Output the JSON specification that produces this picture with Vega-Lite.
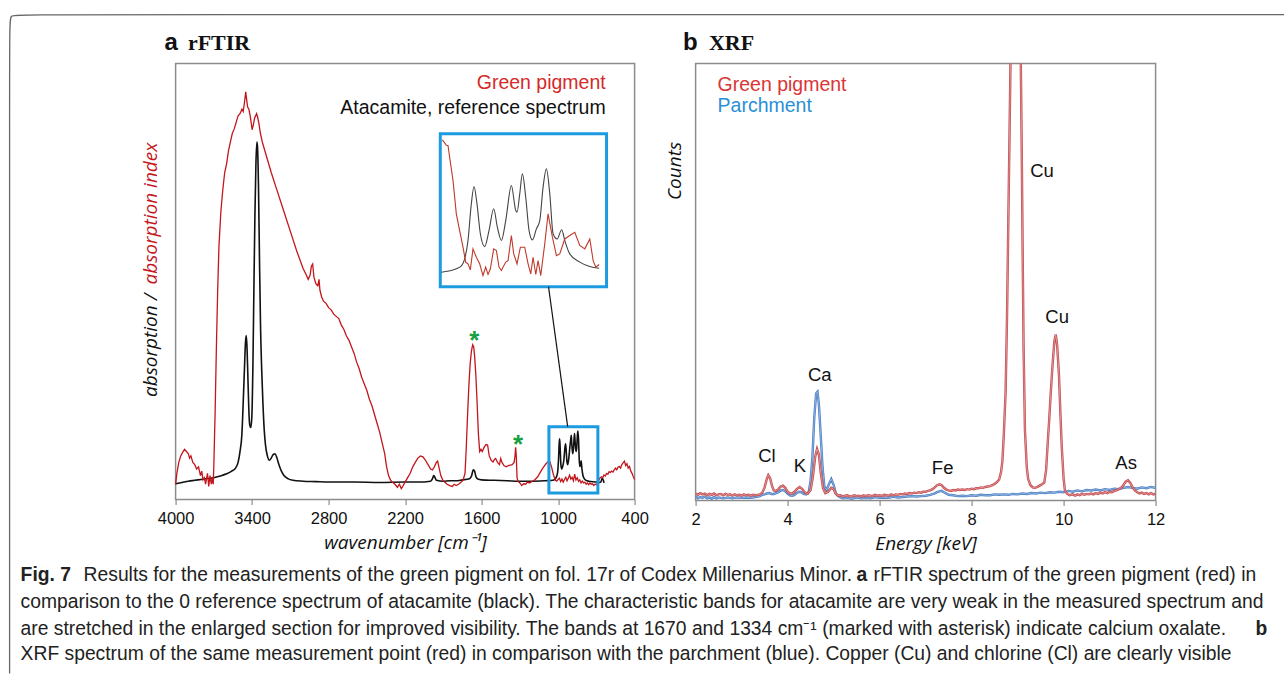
{
"$schema": "https://vega.github.io/schema/vega-lite/v6.json",
"padding": {"left": 5.6, "top": 10.5, "right": 0, "bottom": 0},
"background": "white",
"bounds": "flush",
"spacing": 61,
"config": {
  "view": {"stroke": "#8c8c8c", "strokeWidth": 1.5},
  "axis": {"grid": false, "domain": false, "tickColor": "#8c8c8c", "tickSize": 5, "tickWidth": 1.2, "labelFont": "Liberation Sans", "labelFontSize": 16.5, "labelColor": "#111", "labelPadding": 6.5, "labelFlush": false, "format": "d", "titleFont": "Open Sans", "titleFontSize": 19, "titleFontStyle": "italic", "titleFontWeight": "normal", "titleColor": "#111", "titlePadding": 6}
},
"datasets": {
  "ftir_red": [
{"wn":4000,"v":3.5},{"wn":3990,"v":6},{"wn":3975,"v":8.5},{"wn":3960,"v":10},{"wn":3945,"v":10.8},{"wn":3930,"v":11.5},{"wn":3915,"v":11},{"wn":3900,"v":10.5},{"wn":3890,"v":9.5},{"wn":3880,"v":10},{"wn":3865,"v":8.5},{"wn":3850,"v":8},{"wn":3835,"v":7},{"wn":3820,"v":7.5},{"wn":3805,"v":5.5},{"wn":3795,"v":6.5},{"wn":3785,"v":4.5},{"wn":3775,"v":5},{"wn":3765,"v":3.5},{"wn":3750,"v":6},{"wn":3740,"v":3},{"wn":3730,"v":5.5},{"wn":3720,"v":3.5},{"wn":3712,"v":5},{"wn":3705,"v":3.5},{"wn":3700,"v":8},{"wn":3690,"v":20},{"wn":3680,"v":35},{"wn":3670,"v":48},{"wn":3660,"v":58},{"wn":3645,"v":66},{"wn":3630,"v":71},{"wn":3615,"v":75},{"wn":3600,"v":77},{"wn":3585,"v":80},{"wn":3570,"v":82},{"wn":3555,"v":84},{"wn":3540,"v":85},{"wn":3525,"v":86.5},{"wn":3510,"v":88},{"wn":3495,"v":88.5},{"wn":3480,"v":89.5},{"wn":3470,"v":89},{"wn":3460,"v":91},{"wn":3450,"v":93.5},{"wn":3444,"v":92},{"wn":3435,"v":90},{"wn":3425,"v":89.5},{"wn":3415,"v":88},{"wn":3405,"v":86},{"wn":3400,"v":84.8},{"wn":3390,"v":86},{"wn":3380,"v":87.5},{"wn":3365,"v":88.5},{"wn":3355,"v":87.5},{"wn":3345,"v":86},{"wn":3335,"v":84},{"wn":3320,"v":82},{"wn":3300,"v":80},{"wn":3250,"v":75},{"wn":3200,"v":70.5},{"wn":3150,"v":66},{"wn":3100,"v":61.5},{"wn":3050,"v":57},{"wn":3000,"v":53},{"wn":2975,"v":51.5},{"wn":2960,"v":50.5},{"wn":2945,"v":51.5},{"wn":2935,"v":53.5},{"wn":2925,"v":54},{"wn":2915,"v":51},{"wn":2900,"v":49.5},{"wn":2885,"v":49},{"wn":2875,"v":50.5},{"wn":2868,"v":48},{"wn":2855,"v":46.5},{"wn":2840,"v":45.5},{"wn":2820,"v":45},{"wn":2800,"v":44},{"wn":2780,"v":43.5},{"wn":2760,"v":42.5},{"wn":2740,"v":42},{"wn":2720,"v":41.5},{"wn":2700,"v":40},{"wn":2680,"v":39},{"wn":2660,"v":37.5},{"wn":2640,"v":36.5},{"wn":2620,"v":35},{"wn":2600,"v":33.5},{"wn":2580,"v":31.5},{"wn":2560,"v":30},{"wn":2540,"v":28},{"wn":2520,"v":26.5},{"wn":2500,"v":25},{"wn":2480,"v":23},{"wn":2460,"v":21.5},{"wn":2440,"v":19.5},{"wn":2420,"v":17.5},{"wn":2400,"v":15.5},{"wn":2380,"v":13},{"wn":2360,"v":10.5},{"wn":2345,"v":7.5},{"wn":2330,"v":5.5},{"wn":2315,"v":4.5},{"wn":2300,"v":4},{"wn":2280,"v":3.5},{"wn":2260,"v":2.8},{"wn":2245,"v":3.5},{"wn":2230,"v":2.5},{"wn":2215,"v":3.2},{"wn":2200,"v":4},{"wn":2180,"v":5},{"wn":2160,"v":6},{"wn":2140,"v":7.5},{"wn":2120,"v":8.5},{"wn":2100,"v":9.5},{"wn":2080,"v":10},{"wn":2060,"v":9.8},{"wn":2040,"v":9},{"wn":2020,"v":8},{"wn":2000,"v":7},{"wn":1985,"v":6.8},{"wn":1970,"v":7.5},{"wn":1955,"v":8.5},{"wn":1945,"v":8.8},{"wn":1935,"v":7.5},{"wn":1920,"v":5.5},{"wn":1905,"v":4.5},{"wn":1890,"v":4},{"wn":1870,"v":3.5},{"wn":1850,"v":3.2},{"wn":1830,"v":3},{"wn":1815,"v":3.5},{"wn":1800,"v":3.2},{"wn":1780,"v":3.5},{"wn":1760,"v":4},{"wn":1745,"v":4.5},{"wn":1730,"v":6},{"wn":1720,"v":12},{"wn":1712,"v":18},{"wn":1700,"v":26},{"wn":1690,"v":31},{"wn":1680,"v":34},{"wn":1670,"v":35.5},{"wn":1662,"v":35},{"wn":1655,"v":33},{"wn":1645,"v":28.5},{"wn":1635,"v":22},{"wn":1625,"v":15},{"wn":1615,"v":11},{"wn":1605,"v":11.5},{"wn":1595,"v":11},{"wn":1580,"v":12},{"wn":1565,"v":12.6},{"wn":1553,"v":12.5},{"wn":1540,"v":10},{"wn":1525,"v":9},{"wn":1510,"v":8.6},{"wn":1500,"v":9.2},{"wn":1490,"v":9.4},{"wn":1475,"v":8.5},{"wn":1460,"v":8},{"wn":1450,"v":9.4},{"wn":1440,"v":8.5},{"wn":1425,"v":7.8},{"wn":1405,"v":7.5},{"wn":1390,"v":7.8},{"wn":1375,"v":7.9},{"wn":1360,"v":8},{"wn":1345,"v":8.5},{"wn":1338,"v":10},{"wn":1333,"v":12},{"wn":1328,"v":10},{"wn":1322,"v":5},{"wn":1315,"v":4.2},{"wn":1300,"v":3.8},{"wn":1285,"v":3.2},{"wn":1270,"v":3.6},{"wn":1255,"v":3.5},{"wn":1240,"v":4},{"wn":1225,"v":3.8},{"wn":1200,"v":4.2},{"wn":1180,"v":4.6},{"wn":1160,"v":5.2},{"wn":1145,"v":6},{"wn":1120,"v":7.2},{"wn":1095,"v":8.2},{"wn":1075,"v":8.8},{"wn":1065,"v":8.7},{"wn":1050,"v":7.3},{"wn":1035,"v":5.5},{"wn":1020,"v":4.4},{"wn":1010,"v":4.2},{"wn":1000,"v":4.6},{"wn":990,"v":4.9},{"wn":980,"v":4.1},{"wn":970,"v":4.7},{"wn":960,"v":4.0},{"wn":950,"v":4.6},{"wn":940,"v":5.1},{"wn":930,"v":4.3},{"wn":920,"v":4.9},{"wn":910,"v":5.6},{"wn":900,"v":4.7},{"wn":890,"v":5.1},{"wn":880,"v":4.3},{"wn":870,"v":5.8},{"wn":860,"v":4.5},{"wn":850,"v":5},{"wn":840,"v":4.2},{"wn":830,"v":4.5},{"wn":820,"v":3.8},{"wn":810,"v":4.2},{"wn":800,"v":3.8},{"wn":790,"v":4},{"wn":780,"v":3.5},{"wn":770,"v":3.8},{"wn":760,"v":3.4},{"wn":750,"v":3.8},{"wn":740,"v":3.5},{"wn":730,"v":3.6},{"wn":720,"v":3.2},{"wn":710,"v":3.5},{"wn":700,"v":3.4},{"wn":690,"v":4},{"wn":680,"v":4.5},{"wn":670,"v":5},{"wn":660,"v":5.2},{"wn":650,"v":5},{"wn":640,"v":5.6},{"wn":630,"v":5.4},{"wn":620,"v":6},{"wn":610,"v":5.8},{"wn":600,"v":6.4},{"wn":590,"v":6.2},{"wn":580,"v":6.5},{"wn":570,"v":6.3},{"wn":560,"v":6.8},{"wn":550,"v":7.2},{"wn":540,"v":6.8},{"wn":530,"v":7.4},{"wn":520,"v":7.6},{"wn":510,"v":7.2},{"wn":500,"v":8},{"wn":490,"v":8.4},{"wn":480,"v":8.8},{"wn":470,"v":7.8},{"wn":460,"v":8.2},{"wn":450,"v":7.2},{"wn":440,"v":7.6},{"wn":430,"v":6.5},{"wn":420,"v":6},{"wn":410,"v":5.2},{"wn":400,"v":4.6}
  ],
  "ftir_black": [
{"wn":4000,"v":3.6},{"wn":3950,"v":3.9},{"wn":3900,"v":4.2},{"wn":3850,"v":4.4},{"wn":3800,"v":4.6},{"wn":3750,"v":4.8},{"wn":3700,"v":5},{"wn":3650,"v":5.4},{"wn":3600,"v":5.9},{"wn":3560,"v":6.5},{"wn":3530,"v":7.2},{"wn":3510,"v":8.5},{"wn":3495,"v":11},{"wn":3480,"v":15},{"wn":3470,"v":22},{"wn":3460,"v":30},{"wn":3452,"v":36},{"wn":3446,"v":37.6},{"wn":3440,"v":35},{"wn":3432,"v":27},{"wn":3425,"v":20},{"wn":3418,"v":17},{"wn":3410,"v":16.5},{"wn":3402,"v":19},{"wn":3394,"v":30},{"wn":3386,"v":48},{"wn":3378,"v":65},{"wn":3370,"v":77},{"wn":3363,"v":82},{"wn":3358,"v":81},{"wn":3350,"v":72},{"wn":3342,"v":55},{"wn":3334,"v":40},{"wn":3325,"v":30},{"wn":3315,"v":22},{"wn":3305,"v":16},{"wn":3295,"v":12.5},{"wn":3280,"v":10},{"wn":3265,"v":9},{"wn":3250,"v":9.5},{"wn":3235,"v":10.3},{"wn":3220,"v":10.5},{"wn":3205,"v":9.5},{"wn":3190,"v":8},{"wn":3170,"v":6.5},{"wn":3150,"v":5.5},{"wn":3120,"v":4.8},{"wn":3080,"v":4.4},{"wn":3000,"v":4.2},{"wn":2900,"v":4.1},{"wn":2800,"v":4},{"wn":2600,"v":4},{"wn":2400,"v":3.9},{"wn":2200,"v":4},{"wn":2100,"v":4},{"wn":2000,"v":4.2},{"wn":1985,"v":4.8},{"wn":1975,"v":5.5},{"wn":1965,"v":5},{"wn":1955,"v":4.4},{"wn":1900,"v":4.2},{"wn":1850,"v":4.3},{"wn":1800,"v":4.3},{"wn":1750,"v":4.5},{"wn":1700,"v":4.7},{"wn":1680,"v":5.3},{"wn":1665,"v":6.8},{"wn":1655,"v":6.5},{"wn":1645,"v":5.3},{"wn":1630,"v":4.7},{"wn":1600,"v":4.5},{"wn":1500,"v":4.4},{"wn":1400,"v":4.3},{"wn":1300,"v":4.2},{"wn":1200,"v":4.2},{"wn":1100,"v":4.3},{"wn":1040,"v":4.4},{"wn":1020,"v":4.8},{"wn":1005,"v":6},{"wn":997,"v":9},{"wn":991,"v":13},{"wn":988,"v":13.9},{"wn":984,"v":12},{"wn":978,"v":8},{"wn":972,"v":7},{"wn":965,"v":7.5},{"wn":955,"v":9},{"wn":946,"v":12},{"wn":941,"v":12.8},{"wn":936,"v":11},{"wn":930,"v":8.5},{"wn":924,"v":8},{"wn":916,"v":9.5},{"wn":906,"v":12.5},{"wn":900,"v":14},{"wn":897,"v":14.7},{"wn":893,"v":13},{"wn":886,"v":10.5},{"wn":880,"v":11.5},{"wn":874,"v":14.2},{"wn":871,"v":15.1},{"wn":867,"v":13.5},{"wn":860,"v":11},{"wn":855,"v":11.5},{"wn":849,"v":14.5},{"wn":845,"v":15.7},{"wn":840,"v":14},{"wn":834,"v":9},{"wn":829,"v":7.5},{"wn":824,"v":8},{"wn":819,"v":8.9},{"wn":813,"v":7},{"wn":805,"v":5.5},{"wn":795,"v":4.8},{"wn":780,"v":4.4},{"wn":760,"v":4.2},{"wn":700,"v":4},{"wn":680,"v":3.9},{"wn":665,"v":4.0},{"wn":655,"v":4.8},{"wn":645,"v":4.4},{"wn":640,"v":3.8}
  ],
  "inset_black": [
{"wn":1077.6,"v":9.2},{"wn":1060,"v":10},{"wn":1042.4,"v":11.4},{"wn":1030,"v":13.5},{"wn":1022.8,"v":17.9},{"wn":1015,"v":30},{"wn":1007.2,"v":54},{"wn":1000.9,"v":65.4},{"wn":993.9,"v":54},{"wn":986,"v":34.4},{"wn":975.8,"v":26},{"wn":965.7,"v":36.5},{"wn":954.7,"v":50.8},{"wn":946.1,"v":38.7},{"wn":936.7,"v":30},{"wn":926.5,"v":43},{"wn":913.2,"v":66},{"wn":903,"v":49.7},{"wn":899.9,"v":48.6},{"wn":893.6,"v":60.6},{"wn":887.4,"v":73.7},{"wn":879.5,"v":58.4},{"wn":871.7,"v":36.5},{"wn":863.9,"v":30.4},{"wn":854.5,"v":37.6},{"wn":846.6,"v":43},{"wn":838.8,"v":65},{"wn":831,"v":77},{"wn":823.1,"v":60.6},{"wn":815.3,"v":34.4},{"wn":805.9,"v":31},{"wn":795,"v":37},{"wn":787.9,"v":30},{"wn":776.2,"v":21.2},{"wn":752.7,"v":15.8},{"wn":729.2,"v":12.9},{"wn":707.2,"v":11.8}
  ],
  "inset_red": [
{"wn":1075.3,"v":96},{"wn":1069.8,"v":94},{"wn":1065.9,"v":92.5},{"wn":1062,"v":92.3},{"wn":1058.1,"v":84.7},{"wn":1050.2,"v":69.4},{"wn":1042.4,"v":47.5},{"wn":1034.6,"v":36.5},{"wn":1026.7,"v":25.6},{"wn":1020.5,"v":15.8},{"wn":1015,"v":14.7},{"wn":1009.5,"v":10.7},{"wn":1003.3,"v":24.5},{"wn":995.4,"v":19},{"wn":987.6,"v":14.7},{"wn":979.8,"v":7},{"wn":973.5,"v":12.5},{"wn":968,"v":7.7},{"wn":962.5,"v":11.4},{"wn":954.7,"v":24.5},{"wn":948.4,"v":23.4},{"wn":942.2,"v":12.5},{"wn":936.7,"v":10.3},{"wn":926.5,"v":15.8},{"wn":921,"v":16.8},{"wn":913.2,"v":33.3},{"wn":907.7,"v":21.2},{"wn":899.9,"v":14.7},{"wn":892.1,"v":25.6},{"wn":881.9,"v":25.6},{"wn":874,"v":14.7},{"wn":867.8,"v":8.1},{"wn":862.3,"v":19},{"wn":856,"v":7.7},{"wn":850.6,"v":16.8},{"wn":844.3,"v":7},{"wn":834.9,"v":27.8},{"wn":827.1,"v":47.5},{"wn":816.9,"v":32.2},{"wn":807.5,"v":20.1},{"wn":799.7,"v":21.2},{"wn":787.9,"v":31},{"wn":776.2,"v":33.3},{"wn":764.4,"v":35.4},{"wn":752.7,"v":26.7},{"wn":740.9,"v":24.5},{"wn":729.2,"v":31},{"wn":721.3,"v":16.8},{"wn":715.1,"v":12.5},{"wn":707.2,"v":14.2}
  ],
  "xrf_red": [
{"e":2.0,"v":1.6},{"e":2.05,"v":1.3},{"e":2.1,"v":1.7},{"e":2.15,"v":1.4},{"e":2.2,"v":1.6},{"e":2.25,"v":1.2},{"e":2.3,"v":1.5},{"e":2.35,"v":1.3},{"e":2.4,"v":1.6},{"e":2.45,"v":1.2},{"e":2.5,"v":1.4},{"e":2.55,"v":1.5},{"e":2.6,"v":1.2},{"e":2.65,"v":1.5},{"e":2.7,"v":1.3},{"e":2.75,"v":1.4},{"e":2.8,"v":1.1},{"e":2.85,"v":1.4},{"e":2.9,"v":1.2},{"e":2.95,"v":1.3},{"e":3.0,"v":1.1},{"e":3.05,"v":1.4},{"e":3.1,"v":1.2},{"e":3.15,"v":1.3},{"e":3.2,"v":1.1},{"e":3.25,"v":1.3},{"e":3.3,"v":1.2},{"e":3.35,"v":1.3},{"e":3.4,"v":1.4},{"e":3.45,"v":1.8},{"e":3.5,"v":3},{"e":3.55,"v":5},{"e":3.58,"v":5.8},{"e":3.62,"v":5.1},{"e":3.66,"v":3.4},{"e":3.7,"v":2.3},{"e":3.75,"v":2.2},{"e":3.8,"v":2.6},{"e":3.85,"v":3.2},{"e":3.9,"v":3.4},{"e":3.95,"v":2.9},{"e":4.0,"v":2.0},{"e":4.05,"v":1.6},{"e":4.1,"v":1.6},{"e":4.15,"v":2.0},{"e":4.2,"v":2.6},{"e":4.26,"v":3.1},{"e":4.32,"v":2.6},{"e":4.38,"v":1.8},{"e":4.44,"v":1.6},{"e":4.5,"v":2.4},{"e":4.55,"v":5.5},{"e":4.6,"v":10},{"e":4.64,"v":11.8},{"e":4.68,"v":10.5},{"e":4.72,"v":6.5},{"e":4.77,"v":2.8},{"e":4.82,"v":1.7},{"e":4.88,"v":2.0},{"e":4.95,"v":2.9},{"e":5.0,"v":2.6},{"e":5.05,"v":1.5},{"e":5.1,"v":1.1},{"e":5.15,"v":1.2},{"e":5.2,"v":0.9},{"e":5.25,"v":1.1},{"e":5.3,"v":1.2},{"e":5.35,"v":0.9},{"e":5.4,"v":1.0},{"e":5.45,"v":1.2},{"e":5.5,"v":1.0},{"e":5.55,"v":1.1},{"e":5.6,"v":0.9},{"e":5.65,"v":1.2},{"e":5.7,"v":1.0},{"e":5.75,"v":1.2},{"e":5.8,"v":1.1},{"e":5.85,"v":1.0},{"e":5.9,"v":1.3},{"e":5.95,"v":1.1},{"e":6.0,"v":1.2},{"e":6.05,"v":1.0},{"e":6.1,"v":1.3},{"e":6.15,"v":1.2},{"e":6.2,"v":1.1},{"e":6.25,"v":1.4},{"e":6.3,"v":1.2},{"e":6.35,"v":1.4},{"e":6.4,"v":1.3},{"e":6.45,"v":1.5},{"e":6.5,"v":1.4},{"e":6.55,"v":1.6},{"e":6.6,"v":1.5},{"e":6.65,"v":1.7},{"e":6.7,"v":1.6},{"e":6.75,"v":1.8},{"e":6.8,"v":1.7},{"e":6.85,"v":1.9},{"e":6.9,"v":1.8},{"e":6.95,"v":2.0},{"e":7.0,"v":2.0},{"e":7.05,"v":2.2},{"e":7.1,"v":2.3},{"e":7.15,"v":2.6},{"e":7.2,"v":3.0},{"e":7.25,"v":3.5},{"e":7.3,"v":3.7},{"e":7.35,"v":3.5},{"e":7.4,"v":2.9},{"e":7.45,"v":2.5},{"e":7.5,"v":2.3},{"e":7.55,"v":2.2},{"e":7.6,"v":2.4},{"e":7.65,"v":2.3},{"e":7.7,"v":2.5},{"e":7.75,"v":2.4},{"e":7.8,"v":2.5},{"e":7.85,"v":2.4},{"e":7.9,"v":2.6},{"e":7.95,"v":2.5},{"e":8.0,"v":2.7},{"e":8.05,"v":2.6},{"e":8.1,"v":2.8},{"e":8.15,"v":2.8},{"e":8.2,"v":3.0},{"e":8.25,"v":2.9},{"e":8.3,"v":3.1},{"e":8.35,"v":3.2},{"e":8.4,"v":3.3},{"e":8.45,"v":3.5},{"e":8.5,"v":3.8},{"e":8.55,"v":4.2},{"e":8.6,"v":4.8},{"e":8.64,"v":6.5},{"e":8.67,"v":9},{"e":8.7,"v":15},{"e":8.74,"v":25},{"e":8.77,"v":42},{"e":8.8,"v":65},{"e":8.83,"v":88},{"e":8.86,"v":112},{"e":8.9,"v":135},{"e":8.95,"v":150},{"e":9.0,"v":145},{"e":9.04,"v":122},{"e":9.07,"v":100},{"e":9.09,"v":80},{"e":9.11,"v":57},{"e":9.13,"v":35},{"e":9.16,"v":16},{"e":9.2,"v":7.5},{"e":9.23,"v":4.9},{"e":9.28,"v":3.5},{"e":9.33,"v":3.0},{"e":9.38,"v":2.9},{"e":9.43,"v":3.1},{"e":9.48,"v":3.4},{"e":9.53,"v":3.7},{"e":9.58,"v":4.1},{"e":9.62,"v":7},{"e":9.65,"v":12.3},{"e":9.69,"v":19},{"e":9.72,"v":24.5},{"e":9.76,"v":31},{"e":9.8,"v":36.5},{"e":9.83,"v":38},{"e":9.86,"v":35.5},{"e":9.9,"v":28.6},{"e":9.93,"v":20},{"e":9.96,"v":12.3},{"e":10.0,"v":5},{"e":10.03,"v":2.2},{"e":10.08,"v":1.5},{"e":10.13,"v":1.2},{"e":10.2,"v":1.4},{"e":10.25,"v":1.1},{"e":10.3,"v":1.4},{"e":10.35,"v":1.2},{"e":10.4,"v":1.5},{"e":10.45,"v":1.3},{"e":10.5,"v":1.5},{"e":10.55,"v":1.4},{"e":10.6,"v":1.6},{"e":10.65,"v":1.4},{"e":10.7,"v":1.7},{"e":10.75,"v":1.5},{"e":10.8,"v":1.8},{"e":10.85,"v":1.6},{"e":10.9,"v":1.9},{"e":10.95,"v":1.7},{"e":11.0,"v":2.0},{"e":11.05,"v":1.9},{"e":11.1,"v":2.2},{"e":11.15,"v":2.3},{"e":11.2,"v":2.6},{"e":11.25,"v":2.9},{"e":11.3,"v":3.5},{"e":11.35,"v":4.3},{"e":11.4,"v":4.6},{"e":11.45,"v":4.0},{"e":11.5,"v":3.0},{"e":11.55,"v":2.3},{"e":11.6,"v":1.9},{"e":11.65,"v":1.6},{"e":11.7,"v":1.8},{"e":11.75,"v":1.5},{"e":11.8,"v":1.7},{"e":11.85,"v":1.4},{"e":11.9,"v":1.7},{"e":11.95,"v":1.4},{"e":12.0,"v":1.6}
  ],
  "xrf_blue": [
{"e":2.0,"v":0.9},{"e":2.05,"v":0.5},{"e":2.1,"v":0.8},{"e":2.15,"v":0.6},{"e":2.2,"v":0.9},{"e":2.25,"v":0.5},{"e":2.3,"v":0.7},{"e":2.35,"v":0.4},{"e":2.4,"v":0.8},{"e":2.45,"v":0.5},{"e":2.5,"v":0.7},{"e":2.6,"v":0.5},{"e":2.7,"v":0.7},{"e":2.8,"v":0.5},{"e":2.9,"v":0.7},{"e":3.0,"v":0.6},{"e":3.1,"v":0.7},{"e":3.2,"v":0.6},{"e":3.3,"v":0.8},{"e":3.4,"v":1.0},{"e":3.45,"v":1.3},{"e":3.5,"v":1.4},{"e":3.55,"v":1.6},{"e":3.6,"v":1.7},{"e":3.65,"v":1.5},{"e":3.7,"v":1.5},{"e":3.75,"v":1.7},{"e":3.8,"v":1.9},{"e":3.85,"v":2.3},{"e":3.9,"v":2.4},{"e":3.95,"v":2.1},{"e":4.0,"v":1.6},{"e":4.05,"v":1.2},{"e":4.1,"v":1.1},{"e":4.15,"v":1.3},{"e":4.2,"v":1.7},{"e":4.25,"v":2.0},{"e":4.3,"v":1.9},{"e":4.35,"v":1.5},{"e":4.4,"v":1.4},{"e":4.46,"v":2.0},{"e":4.5,"v":4.5},{"e":4.54,"v":10},{"e":4.58,"v":19},{"e":4.62,"v":24.5},{"e":4.65,"v":24.9},{"e":4.68,"v":22},{"e":4.72,"v":15},{"e":4.76,"v":7.5},{"e":4.8,"v":3.2},{"e":4.85,"v":2.4},{"e":4.9,"v":3.8},{"e":4.95,"v":4.9},{"e":5.0,"v":3.6},{"e":5.05,"v":1.6},{"e":5.1,"v":1.0},{"e":5.15,"v":0.7},{"e":5.2,"v":0.5},{"e":5.3,"v":0.6},{"e":5.4,"v":0.4},{"e":5.5,"v":0.7},{"e":5.6,"v":0.5},{"e":5.7,"v":0.6},{"e":5.8,"v":0.5},{"e":5.9,"v":0.8},{"e":6.0,"v":0.6},{"e":6.1,"v":0.7},{"e":6.2,"v":0.6},{"e":6.3,"v":0.9},{"e":6.4,"v":0.7},{"e":6.5,"v":0.8},{"e":6.6,"v":0.9},{"e":6.7,"v":1.0},{"e":6.8,"v":0.9},{"e":6.9,"v":1.0},{"e":7.0,"v":1.1},{"e":7.1,"v":1.3},{"e":7.2,"v":1.6},{"e":7.25,"v":1.9},{"e":7.3,"v":2.1},{"e":7.35,"v":2.2},{"e":7.4,"v":1.9},{"e":7.45,"v":1.6},{"e":7.5,"v":1.3},{"e":7.6,"v":1.2},{"e":7.7,"v":1.0},{"e":7.8,"v":1.1},{"e":7.9,"v":1.0},{"e":8.0,"v":1.2},{"e":8.1,"v":1.1},{"e":8.2,"v":1.3},{"e":8.3,"v":1.2},{"e":8.4,"v":1.2},{"e":8.5,"v":1.4},{"e":8.6,"v":1.3},{"e":8.7,"v":1.4},{"e":8.8,"v":1.3},{"e":8.9,"v":1.5},{"e":9.0,"v":1.4},{"e":9.1,"v":1.6},{"e":9.2,"v":1.5},{"e":9.3,"v":1.7},{"e":9.4,"v":1.6},{"e":9.5,"v":1.8},{"e":9.6,"v":1.7},{"e":9.7,"v":1.9},{"e":9.8,"v":1.8},{"e":9.9,"v":2.0},{"e":10.0,"v":1.9},{"e":10.1,"v":2.2},{"e":10.2,"v":2.0},{"e":10.3,"v":2.3},{"e":10.4,"v":2.1},{"e":10.5,"v":2.4},{"e":10.6,"v":2.3},{"e":10.7,"v":2.5},{"e":10.8,"v":2.3},{"e":10.9,"v":2.6},{"e":11.0,"v":2.4},{"e":11.1,"v":2.7},{"e":11.2,"v":2.6},{"e":11.3,"v":2.9},{"e":11.4,"v":3.1},{"e":11.5,"v":2.9},{"e":11.6,"v":2.7},{"e":11.7,"v":3.0},{"e":11.8,"v":2.8},{"e":11.9,"v":3.1},{"e":12.0,"v":2.9}
  ]
},
"hconcat": [
  {
    "width": 459, "height": 436,
    "layer": [
      {
        "encoding": {
          "x": {"field": "wn", "type": "quantitative", "scale": {"domain": [4000, 400], "nice": false, "zero": false}, "axis": {"values": [4000, 3400, 2800, 2200, 1600, 1000, 400], "title": "wavenumber [cm⁻¹]"}},
          "y": {"field": "v", "type": "quantitative", "scale": {"domain": [0, 100], "nice": false, "zero": false}, "axis": null}
        },
        "layer": [
          {"data": {"name": "ftir_black"}, "mark": {"type": "line", "color": "#111111", "strokeWidth": 1.6, "interpolate": "monotone"}},
          {"data": {"name": "ftir_red"}, "mark": {"type": "line", "color": "#c3161c", "strokeWidth": 1.3}},
          {"data": {"values": [{"wn": 1072, "wn2": 688, "v": 1.5, "v2": 16.7}, {"wn": 1924, "wn2": 620, "v": 48.8, "v2": 83.9}]}, "mark": {"type": "rect", "filled": false, "stroke": "#1c9be1", "strokeWidth": 3}, "encoding": {"x2": {"field": "wn2"}, "y2": {"field": "v2"}}},
          {"data": {"values": [{"wn": 1075, "v": 48.8, "wn2": 925, "v2": 16.7}]}, "mark": {"type": "rule", "color": "#111111", "strokeWidth": 1.2}, "encoding": {"x2": {"field": "wn2"}, "y2": {"field": "v2"}}},
          {"data": {"values": [{"wn": 4190.6, "v": 47.2, "t": "absorption /"}]}, "mark": {"type": "text", "angle": 270, "align": "right", "baseline": "middle", "font": "Open Sans", "fontStyle": "italic", "fontSize": 19, "color": "#111111"}, "encoding": {"text": {"field": "t"}}},
          {"data": {"values": [{"wn": 4190.6, "v": 49.3, "t": "absorption index"}]}, "mark": {"type": "text", "angle": 270, "align": "left", "baseline": "middle", "font": "Open Sans", "fontStyle": "italic", "fontSize": 19, "color": "#c3161c"}, "encoding": {"text": {"field": "t"}}},
          {"data": {"values": [{"wn": 4086.3, "v": 103.2, "t": "a"}]}, "mark": {"type": "text", "align": "left", "baseline": "alphabetic", "font": "Liberation Sans", "fontWeight": "bold", "fontSize": 24, "color": "#111111"}, "encoding": {"text": {"field": "t"}}},
          {"data": {"values": [{"wn": 3903.5, "v": 103.2, "t": "rFTIR"}]}, "mark": {"type": "text", "align": "left", "baseline": "alphabetic", "font": "Liberation Serif", "fontWeight": "bold", "fontSize": 22, "color": "#111111"}, "encoding": {"text": {"field": "t"}}},
          {"data": {"values": [{"wn": 627, "v": 95.6, "t": "Green pigment"}]}, "mark": {"type": "text", "align": "right", "baseline": "middle", "font": "Liberation Sans", "fontSize": 19.5, "color": "#d42a2a"}, "encoding": {"text": {"field": "t"}}},
          {"data": {"values": [{"wn": 627, "v": 89.7, "t": "Atacamite, reference spectrum"}]}, "mark": {"type": "text", "align": "right", "baseline": "middle", "font": "Liberation Sans", "fontSize": 19.5, "color": "#111111"}, "encoding": {"text": {"field": "t"}}},
          {"data": {"values": [{"wn": 1657, "v": 34.45, "t": "*"}, {"wn": 1314, "v": 10.7, "t": "*"}]}, "mark": {"type": "text", "align": "center", "baseline": "alphabetic", "font": "Liberation Sans", "fontWeight": "bold", "fontSize": 26, "color": "#16a042"}, "encoding": {"text": {"field": "t"}}},
          {"data": {"values": [{"wn": 5215.7, "v": -17.43, "t": "Fig. 7"}, {"wn": -1341, "v": -17.43, "t": "a"}, {"wn": -4470.6, "v": -29.59, "t": "b"}]}, "mark": {"type": "text", "align": "left", "baseline": "middle", "font": "Liberation Sans", "fontWeight": "bold", "fontSize": 19.3, "color": "#222222"}, "encoding": {"text": {"field": "t"}}},
          {"data": {"values": [
            {"wn": 4721.6, "v": -17.43, "t": "Results for the measurements of the green pigment on fol. 17r of Codex Millenarius Minor."},
            {"wn": -1474.5, "v": -17.43, "t": "rFTIR spectrum of the green pigment (red) in"},
            {"wn": 5215.7, "v": -23.62, "t": "comparison to the 0 reference spectrum of atacamite (black). The characteristic bands for atacamite are very weak in the measured spectrum and"},
            {"wn": 5215.7, "v": -29.59, "t": "are stretched in the enlarged section for improved visibility. The bands at 1670 and 1334 cm⁻¹ (marked with asterisk) indicate calcium oxalate."},
            {"wn": 5215.7, "v": -35.55, "t": "XRF spectrum of the same measurement point (red) in comparison with the parchment (blue). Copper (Cu) and chlorine (Cl) are clearly visible"}
          ]}, "mark": {"type": "text", "align": "left", "baseline": "middle", "font": "Liberation Sans", "fontSize": 19.3, "color": "#222222"}, "encoding": {"text": {"field": "t"}}},
          {"data": {"values": [{"wn": 5302, "v": -39.9, "i": 0}, {"wn": 5302, "v": 108.9, "i": 1}, {"wn": 5302, "v": 111.2, "i": 2}, {"wn": 5207.8, "v": 111.2, "i": 3}, {"wn": -4737.3, "v": 111.2, "i": 4}]}, "mark": {"type": "line", "color": "#666666", "strokeWidth": 1.3, "interpolate": "basis"}, "encoding": {"order": {"field": "i", "type": "quantitative"}}}
        ]
      },
      {
        "encoding": {
          "x": {"field": "wn", "type": "quantitative", "scale": {"domain": [1080, 690], "range": [264.7, 430.9], "nice": false, "zero": false}, "axis": null},
          "y": {"field": "v", "type": "quantitative", "scale": {"domain": [0, 100], "range": [222.7, 70.3], "nice": false, "zero": false}, "axis": null}
        },
        "layer": [
          {"data": {"name": "inset_black"}, "mark": {"type": "line", "color": "#444444", "strokeWidth": 1.1, "interpolate": "monotone"}},
          {"data": {"name": "inset_red"}, "mark": {"type": "line", "color": "#c0392b", "strokeWidth": 1.1}}
        ]
      }
    ],
    "resolve": {"scale": {"x": "independent", "y": "independent"}}
  },
  {
    "width": 460, "height": 437,
    "encoding": {
      "x": {"field": "e", "type": "quantitative", "scale": {"domain": [2, 12], "nice": false, "zero": false}, "axis": {"values": [2, 4, 6, 8, 10, 12], "title": "Energy [keV]"}},
      "y": {"field": "v", "type": "quantitative", "scale": {"domain": [0, 100], "nice": false, "zero": false}, "axis": null}
    },
    "layer": [
      {"data": {"name": "xrf_blue"}, "mark": {"type": "line", "color": "#4a7fc4", "strokeWidth": 2.4, "clip": true}},
      {"data": {"name": "xrf_blue"}, "mark": {"type": "line", "color": "#a9c6ea", "strokeWidth": 0.7, "clip": true}},
      {"data": {"name": "xrf_red"}, "mark": {"type": "line", "color": "#c44a4e", "strokeWidth": 2.4, "clip": true}},
      {"data": {"name": "xrf_red"}, "mark": {"type": "line", "color": "#eab0b0", "strokeWidth": 0.7, "clip": true}},
      {"data": {"values": [{"e": 2.478, "v": 95.1, "t": "Green pigment"}]}, "mark": {"type": "text", "align": "left", "baseline": "middle", "font": "Liberation Sans", "fontSize": 19.5, "color": "#d93535"}, "encoding": {"text": {"field": "t"}}},
      {"data": {"values": [{"e": 2.478, "v": 90.3, "t": "Parchment"}]}, "mark": {"type": "text", "align": "left", "baseline": "middle", "font": "Liberation Sans", "fontSize": 19.5, "color": "#2a8fd8"}, "encoding": {"text": {"field": "t"}}},
      {"data": {"values": [{"e": 9.53, "v": 75.4, "t": "Cu"}, {"e": 9.86, "v": 42.1, "t": "Cu"}, {"e": 4.70, "v": 28.8, "t": "Ca"}, {"e": 3.55, "v": 10.2, "t": "Cl"}, {"e": 4.27, "v": 7.8, "t": "K"}, {"e": 7.37, "v": 7.5, "t": "Fe"}, {"e": 11.36, "v": 8.6, "t": "As"}]}, "mark": {"type": "text", "align": "center", "baseline": "middle", "font": "Liberation Sans", "fontSize": 18.5, "color": "#111111"}, "encoding": {"text": {"field": "t"}}},
      {"data": {"values": [{"e": 1.55, "v": 75.4, "t": "Counts"}]}, "mark": {"type": "text", "angle": 270, "align": "center", "baseline": "middle", "font": "Open Sans", "fontStyle": "italic", "fontSize": 19, "color": "#111111"}, "encoding": {"text": {"field": "t"}}},
      {"data": {"values": [{"e": 1.724, "v": 103.2, "t": "b"}]}, "mark": {"type": "text", "align": "left", "baseline": "alphabetic", "font": "Liberation Sans", "fontWeight": "bold", "fontSize": 24, "color": "#111111"}, "encoding": {"text": {"field": "t"}}},
      {"data": {"values": [{"e": 2.289, "v": 103.2, "t": "XRF"}]}, "mark": {"type": "text", "align": "left", "baseline": "alphabetic", "font": "Liberation Serif", "fontWeight": "bold", "fontSize": 22, "color": "#111111"}, "encoding": {"text": {"field": "t"}}}
    ]
  }
]
}
